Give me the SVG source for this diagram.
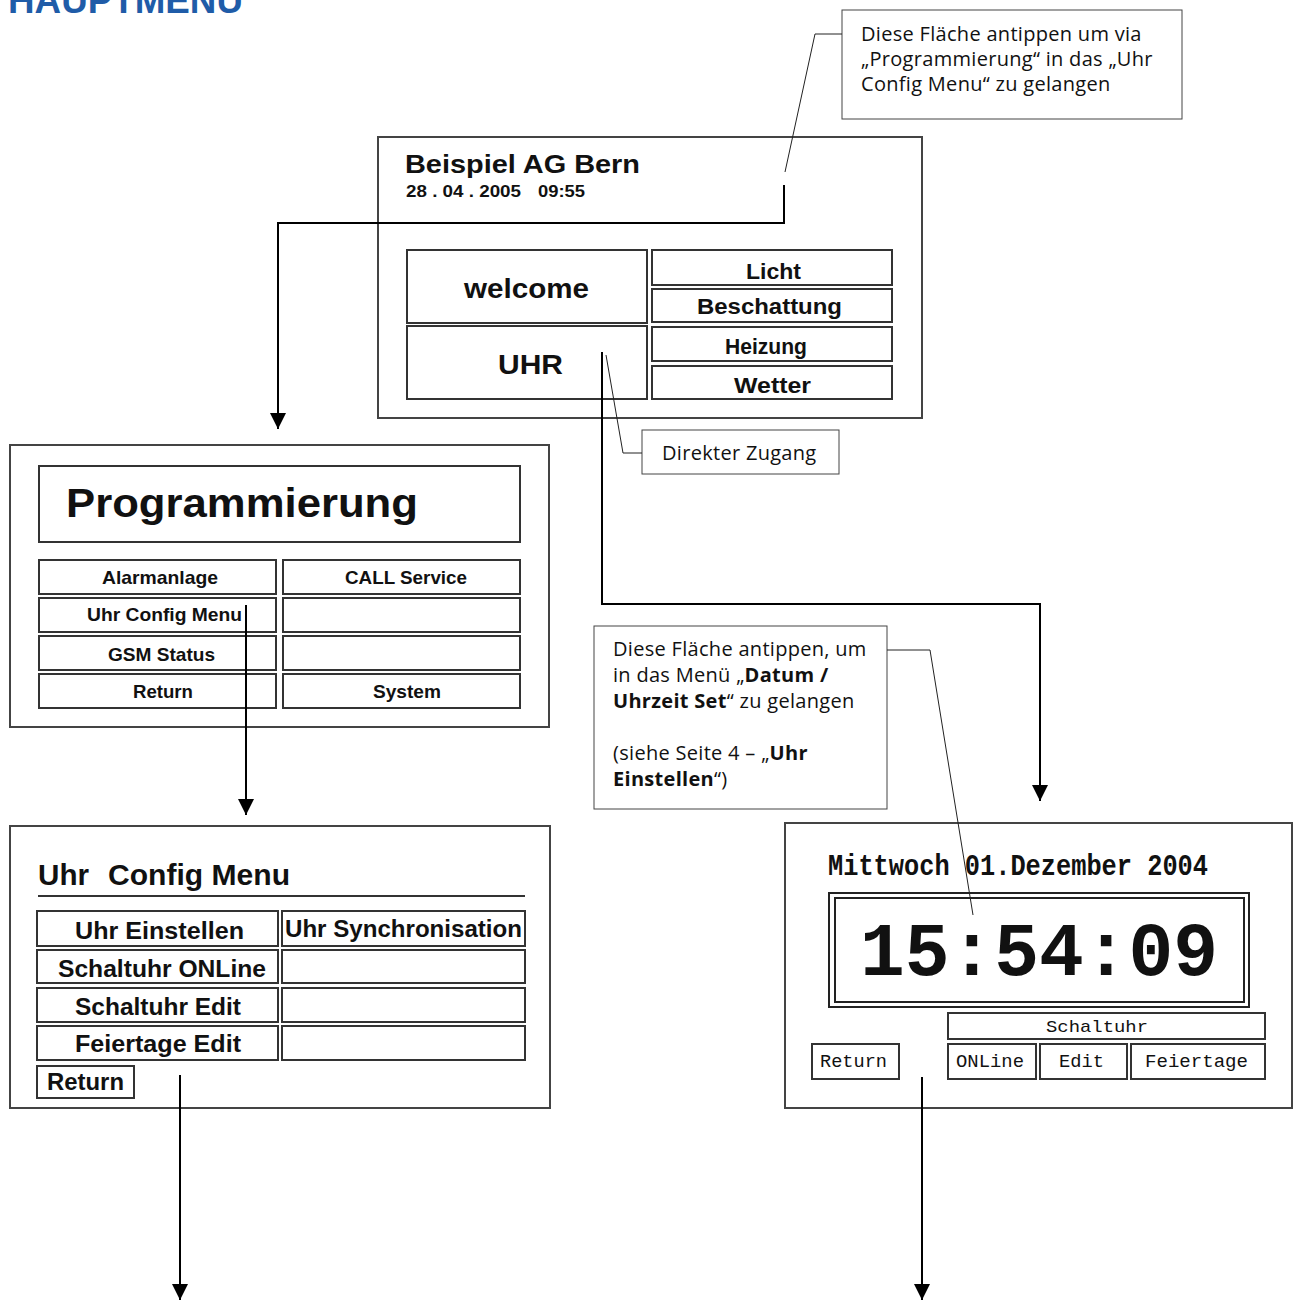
<svg xmlns="http://www.w3.org/2000/svg" width="1293" height="1301" viewBox="0 0 1293 1301">
<style>
.scr{fill:#fff;stroke:#444;stroke-width:2}
.btn{fill:#fff;stroke:#333;stroke-width:2}
.t{font-family:"Liberation Sans",Arial,sans-serif;font-weight:bold;fill:#111}
.m{font-family:"Liberation Mono","DejaVu Sans Mono",monospace;fill:#111}
.c{font-family:"Open Sans","Noto Sans",sans-serif;font-size:20px;letter-spacing:0.3px;fill:#111}
.cb{fill:#fff;stroke:#444;stroke-width:1}
.lead{fill:none;stroke:#222;stroke-width:1}
.conn{fill:none;stroke:#000;stroke-width:2}
</style>
<defs>
<marker id="arr" markerUnits="userSpaceOnUse" markerWidth="16" markerHeight="17" refX="16" refY="8" orient="auto" viewBox="0 0 16 16">
<path d="M0,0 L16,8 L0,16 Z" fill="#000"/>
</marker>
</defs>
<rect width="1293" height="1301" fill="#fff"/>
<text x="8" y="13" font-family="Liberation Sans,Arial,sans-serif" font-weight="bold" font-size="36" fill="#1f5ca8" textLength="235" lengthAdjust="spacingAndGlyphs">HAUPTMENU</text>

<g id="hauptmenu">
<rect class="scr" x="378" y="137" width="544" height="281"/>
<text class="t" x="405" y="173" font-size="26" textLength="235" lengthAdjust="spacingAndGlyphs">Beispiel AG Bern</text>
<text class="t" x="406" y="197" font-size="16" textLength="115" lengthAdjust="spacingAndGlyphs">28 . 04 . 2005</text>
<text class="t" x="538" y="197" font-size="16" textLength="47" lengthAdjust="spacingAndGlyphs">09:55</text>
<rect class="btn" x="407" y="250" width="240" height="73"/>
<rect class="btn" x="407" y="326" width="240" height="73"/>
<rect class="btn" x="652" y="250" width="240" height="35"/>
<rect class="btn" x="652" y="289" width="240" height="33"/>
<rect class="btn" x="652" y="327" width="240" height="34"/>
<rect class="btn" x="652" y="366" width="240" height="33"/>
<text class="t" x="464" y="298" font-size="27" textLength="125" lengthAdjust="spacingAndGlyphs">welcome</text>
<text class="t" x="498" y="374" font-size="28" textLength="65" lengthAdjust="spacingAndGlyphs">UHR</text>
<text class="t" x="746" y="279" font-size="22" textLength="55" lengthAdjust="spacingAndGlyphs">Licht</text>
<text class="t" x="697" y="314" font-size="22" textLength="145" lengthAdjust="spacingAndGlyphs">Beschattung</text>
<text class="t" x="725" y="354" font-size="22" textLength="82" lengthAdjust="spacingAndGlyphs">Heizung</text>
<text class="t" x="734" y="393" font-size="22" textLength="77" lengthAdjust="spacingAndGlyphs">Wetter</text>
</g>

<g id="callout-programmierung">
<rect class="cb" x="842" y="10" width="340" height="109"/>
<text class="c" x="861" y="41">Diese Fläche antippen um via</text>
<text class="c" x="861" y="66">„Programmierung“ in das „Uhr</text>
<text class="c" x="861" y="91">Config Menu“ zu gelangen</text>
<polyline class="lead" points="842,34 815,34 785,172"/>
</g>

<g id="callout-direkt">
<rect class="cb" x="642" y="430" width="197" height="44"/>
<text class="c" x="662" y="460">Direkter Zugang</text>
<polyline class="lead" points="606,355 623,453 642,453"/>
</g>

<g id="programmierung">
<rect class="scr" x="10" y="445" width="539" height="282"/>
<rect class="btn" x="39" y="466" width="481" height="76"/>
<text class="t" x="66" y="517" font-size="40" textLength="352" lengthAdjust="spacingAndGlyphs">Programmierung</text>
<rect class="btn" x="39" y="560" width="237" height="34"/>
<rect class="btn" x="283" y="560" width="237" height="34"/>
<rect class="btn" x="39" y="598" width="237" height="34"/>
<rect class="btn" x="283" y="598" width="237" height="34"/>
<rect class="btn" x="39" y="636" width="237" height="34"/>
<rect class="btn" x="283" y="636" width="237" height="34"/>
<rect class="btn" x="39" y="674" width="237" height="34"/>
<rect class="btn" x="283" y="674" width="237" height="34"/>
<text class="t" x="102" y="584" font-size="19" textLength="116" lengthAdjust="spacingAndGlyphs">Alarmanlage</text>
<text class="t" x="345" y="584" font-size="19" textLength="122" lengthAdjust="spacingAndGlyphs">CALL Service</text>
<text class="t" x="87" y="621" font-size="19" textLength="155" lengthAdjust="spacingAndGlyphs">Uhr Config Menu</text>
<text class="t" x="108" y="661" font-size="19" textLength="107" lengthAdjust="spacingAndGlyphs">GSM Status</text>
<text class="t" x="133" y="698" font-size="19" textLength="60" lengthAdjust="spacingAndGlyphs">Return</text>
<text class="t" x="373" y="698" font-size="19" textLength="68" lengthAdjust="spacingAndGlyphs">System</text>
</g>

<g id="uhr-config-menu">
<rect class="scr" x="10" y="826" width="540" height="282"/>
<text class="t" x="38" y="885" font-size="29" textLength="51" lengthAdjust="spacingAndGlyphs">Uhr</text>
<text class="t" x="108" y="885" font-size="29" textLength="182" lengthAdjust="spacingAndGlyphs">Config Menu</text>
<line x1="38" y1="896" x2="525" y2="896" stroke="#333" stroke-width="2"/>
<rect class="btn" x="37" y="911" width="241" height="35"/>
<rect class="btn" x="282" y="911" width="243" height="35"/>
<rect class="btn" x="37" y="950" width="241" height="33"/>
<rect class="btn" x="282" y="950" width="243" height="33"/>
<rect class="btn" x="37" y="988" width="241" height="34"/>
<rect class="btn" x="282" y="988" width="243" height="34"/>
<rect class="btn" x="37" y="1026" width="241" height="34"/>
<rect class="btn" x="282" y="1026" width="243" height="34"/>
<rect class="btn" x="37" y="1066" width="97" height="32"/>
<text class="t" x="75" y="939" font-size="24" textLength="169" lengthAdjust="spacingAndGlyphs">Uhr Einstellen</text>
<text class="t" x="285" y="937" font-size="24" textLength="237" lengthAdjust="spacingAndGlyphs">Uhr Synchronisation</text>
<text class="t" x="58" y="977" font-size="24" textLength="208" lengthAdjust="spacingAndGlyphs">Schaltuhr ONLine</text>
<text class="t" x="75" y="1015" font-size="24" textLength="166" lengthAdjust="spacingAndGlyphs">Schaltuhr Edit</text>
<text class="t" x="75" y="1052" font-size="24" textLength="166" lengthAdjust="spacingAndGlyphs">Feiertage Edit</text>
<text class="t" x="47" y="1090" font-size="24" textLength="77" lengthAdjust="spacingAndGlyphs">Return</text>
</g>

<g id="callout-datum">
<rect class="cb" x="594" y="626" width="293" height="183"/>
<text class="c" x="613" y="656">Diese Fläche antippen, um</text>
<text class="c" x="613" y="682">in das Menü „<tspan font-weight="bold">Datum /</tspan></text>
<text class="c" x="613" y="708"><tspan font-weight="bold">Uhrzeit Set</tspan>“ zu gelangen</text>
<text class="c" x="613" y="760">(siehe Seite 4 – „<tspan font-weight="bold">Uhr</tspan></text>
<text class="c" x="613" y="786"><tspan font-weight="bold">Einstellen</tspan>“)</text>
</g>

<g id="uhr-anzeige">
<rect class="scr" x="785" y="823" width="507" height="285"/>
<text class="m" x="828" y="875" font-size="30" font-weight="bold" textLength="380" lengthAdjust="spacingAndGlyphs">Mittwoch 01.Dezember 2004</text>
<rect x="829" y="893" width="420" height="114" fill="none" stroke="#222" stroke-width="2"/>
<rect x="835" y="898" width="409" height="104" fill="none" stroke="#222" stroke-width="2"/>
<text class="m" x="860" y="975" font-size="76" font-weight="bold" textLength="358" lengthAdjust="spacingAndGlyphs">15:54:09</text>
<rect class="btn" x="948" y="1013" width="317" height="26"/>
<text class="m" x="1046" y="1032" font-size="17" textLength="102" lengthAdjust="spacingAndGlyphs">Schaltuhr</text>
<rect class="btn" x="812" y="1044" width="87" height="35"/>
<rect class="btn" x="948" y="1044" width="88" height="35"/>
<rect class="btn" x="1040" y="1044" width="87" height="35"/>
<rect class="btn" x="1131" y="1044" width="134" height="35"/>
<text class="m" x="820" y="1067" font-size="18" textLength="67" lengthAdjust="spacingAndGlyphs">Return</text>
<text class="m" x="956" y="1067" font-size="18" textLength="68" lengthAdjust="spacingAndGlyphs">ONLine</text>
<text class="m" x="1059" y="1067" font-size="18" textLength="45" lengthAdjust="spacingAndGlyphs">Edit</text>
<text class="m" x="1145" y="1067" font-size="18" textLength="103" lengthAdjust="spacingAndGlyphs">Feiertage</text>
<polyline class="lead" points="887,650 930,650 973,915"/>
</g>

<g id="connectors">
<polyline class="conn" points="784,185 784,223 278,223 278,429" marker-end="url(#arr)"/>
<polyline class="conn" points="602,352 602,604 1040,604 1040,801" marker-end="url(#arr)"/>
<polyline class="conn" points="246,605 246,815" marker-end="url(#arr)"/>
<polyline class="conn" points="180,1075 180,1300" marker-end="url(#arr)"/>
<polyline class="conn" points="922,1077 922,1300" marker-end="url(#arr)"/>
</g>
</svg>
